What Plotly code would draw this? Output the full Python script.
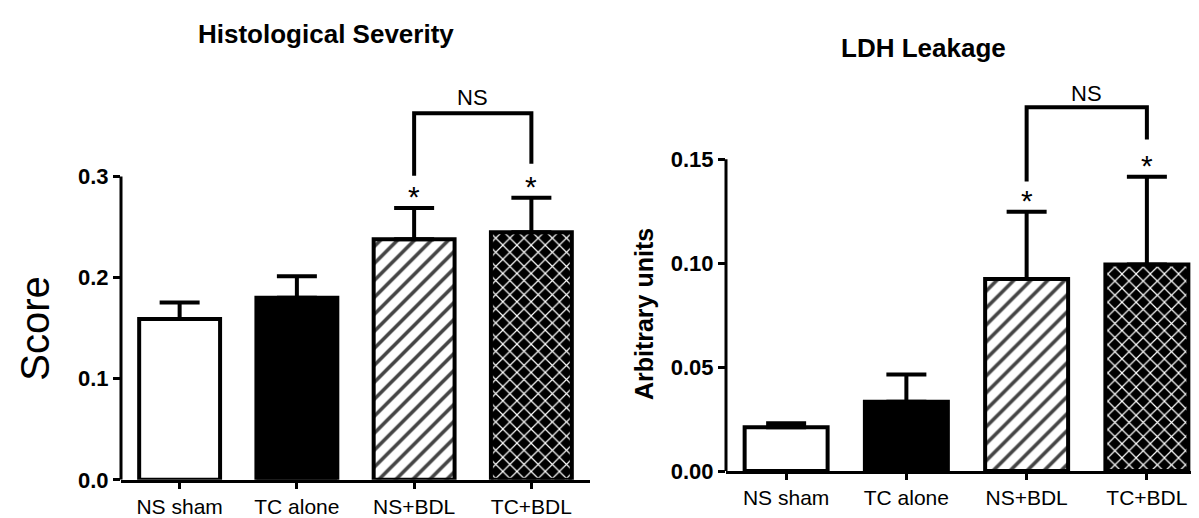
import plotly.graph_objects as go
from plotly.subplots import make_subplots

# ---------------- data ----------------
categories = ["NS sham", "TC alone", "NS+BDL", "TC+BDL"]
hist_mean = [0.159, 0.180, 0.238, 0.245]
hist_sem = [0.0165, 0.0215, 0.031, 0.034]
ldh_mean = [0.0211, 0.0333, 0.0924, 0.0994]
ldh_sem = [0.0019, 0.0131, 0.0323, 0.0422]
significant = [False, False, True, True]
hist_ticks = [0.0, 0.1, 0.2, 0.3]
hist_ticktext = ["0.0", "0.1", "0.2", "0.3"]
ldh_ticks = [0.0, 0.05, 0.10, 0.15]
ldh_ticktext = ["0.00", "0.05", "0.10", "0.15"]
panel_titles = ["Histological Severity", "LDH Leakage"]
y_titles = ["Score", "Arbitrary units"]
ns_label = "NS"

# ---------------- layout geometry ----------------
W, H = 1199, 518
FONT = "Liberation Sans, Arial, sans-serif"

L_x0, L_x1 = 113, 582
R_x0, R_x1 = 718, 1199
L_y0px, L_pxunit, L_ymax = 484, 1037.0, 0.40
R_y0px, R_pxunit, R_ymax = 475, 2133.0, 0.19


def ydomain(y0px, pxunit, ymax):
    top = y0px - pxunit * ymax
    return [(H - y0px) / H, (H - top) / H]


fill_colors = ["white", "black", "white", "black"]
pat_shapes = ["", "", "/", "x"]
pat_fg = ["black", "black", "black", "white"]
pat_bg = ["white", "black", "white", "black"]
pat_size = [10, 10, 12, 10]
pat_solid = [0.2, 0.2, 0.3, 0.22]

fig = make_subplots(rows=1, cols=2)


def add_panel(col, means, sems):
    fig.add_trace(
        go.Bar(
            x=categories,
            y=means,
            width=0.69,
            marker=dict(
                color=fill_colors,
                line=dict(color="black", width=4),
                pattern=dict(shape=pat_shapes, fgcolor=pat_fg, bgcolor=pat_bg,
                             size=pat_size, solidity=pat_solid, fgopacity=1),
            ),
            error_y=dict(type="data", array=sems, arrayminus=[0] * len(sems),
                         symmetric=False, thickness=4, width=20, color="black"),
            showlegend=False,
            hoverinfo="skip",
        ),
        row=1, col=col,
    )


add_panel(1, hist_mean, hist_sem)
add_panel(2, ldh_mean, ldh_sem)

axis_common = dict(showgrid=False, zeroline=False, ticks="outside", tickcolor="black",
                   tickwidth=3, color="black")

fig.update_xaxes(axis_common, ticklen=6, showline=True, linewidth=3, linecolor="black",
                 tickfont=dict(family=FONT, size=21, color="black"),
                 range=[-0.5, 3.5])
fig.update_yaxes(axis_common, ticklen=7, showline=False,
                 tickfont=dict(family=FONT, size=22, color="black", weight="bold"))

fig.update_layout(
    xaxis=dict(domain=[L_x0 / W, L_x1 / W]),
    xaxis2=dict(domain=[R_x0 / W, min(1.0, R_x1 / W)]),
    yaxis=dict(domain=ydomain(L_y0px, L_pxunit, L_ymax), range=[0, L_ymax],
               tickvals=hist_ticks, ticktext=hist_ticktext),
    yaxis2=dict(domain=ydomain(R_y0px, R_pxunit, R_ymax), range=[0, R_ymax],
                tickvals=ldh_ticks, ticktext=ldh_ticktext),
)

shapes = []
annotations = []

for xref, yref, top in [("x domain", "y", hist_ticks[-1]), ("x2 domain", "y2", ldh_ticks[-1])]:
    shapes.append(dict(type="line", xref=xref, yref=yref, x0=0, x1=0, y0=0, y1=top,
                       line=dict(color="black", width=3)))


def significance(xref, yref, means, sems, pxunit, leg_px, bracket_level, ns_shift):
    idx = [i for i, s in enumerate(significant) if s]
    tops = []
    for k, i in enumerate(idx):
        errtop = means[i] + sems[i]
        annotations.append(dict(x=categories[i], y=errtop, xref=xref, yref=yref, text="*",
                                showarrow=False, yanchor="bottom", yshift=-7,
                                font=dict(family=FONT, size=30, color="black")))
        tops.append(errtop + leg_px[k] / pxunit)
    xs = idx
    shapes.append(dict(type="path", xref=xref, yref=yref,
                       path=f"M {xs[0]},{tops[0]} L {xs[0]},{bracket_level} L {xs[1]},{bracket_level} L {xs[1]},{tops[1]}",
                       line=dict(color="black", width=4)))
    annotations.append(dict(x=(xs[0] + xs[1]) / 2, y=bracket_level, xref=xref, yref=yref,
                            text=ns_label, showarrow=False, yanchor="bottom", yshift=ns_shift,
                            font=dict(family=FONT, size=22, color="black")))


significance("x", "y", hist_mean, hist_sem, L_pxunit, [33, 35], 0.3626, 1)
significance("x2", "y2", ldh_mean, ldh_sem, R_pxunit, [31, 38], 0.175, -1)

annotations.append(dict(x=318 / W, y=1 - 27 / H, xref="paper", yref="paper", text=f"<b>{panel_titles[0]}</b>",
                        showarrow=False, xanchor="center", yanchor="middle",
                        font=dict(family=FONT, size=26, color="black")))
annotations.append(dict(x=915 / W, y=1 - 41 / H, xref="paper", yref="paper", text=f"<b>{panel_titles[1]}</b>",
                        showarrow=False, xanchor="center", yanchor="middle",
                        font=dict(family=FONT, size=26, color="black")))
annotations.append(dict(x=27 / W, y=1 - 329 / H, xref="paper", yref="paper", text=y_titles[0],
                        showarrow=False, textangle=-90, xanchor="center", yanchor="middle",
                        font=dict(family=FONT, size=40, color="black")))
annotations.append(dict(x=636 / W, y=1 - 314 / H, xref="paper", yref="paper", text=f"<b>{y_titles[1]}</b>",
                        showarrow=False, textangle=-90, xanchor="center", yanchor="middle",
                        font=dict(family=FONT, size=25, color="black")))

fig.update_layout(
    width=W, height=H,
    margin=dict(l=0, r=0, t=0, b=0),
    paper_bgcolor="white", plot_bgcolor="white",
    shapes=shapes, annotations=annotations,
)

fig.write_html("out.html")
